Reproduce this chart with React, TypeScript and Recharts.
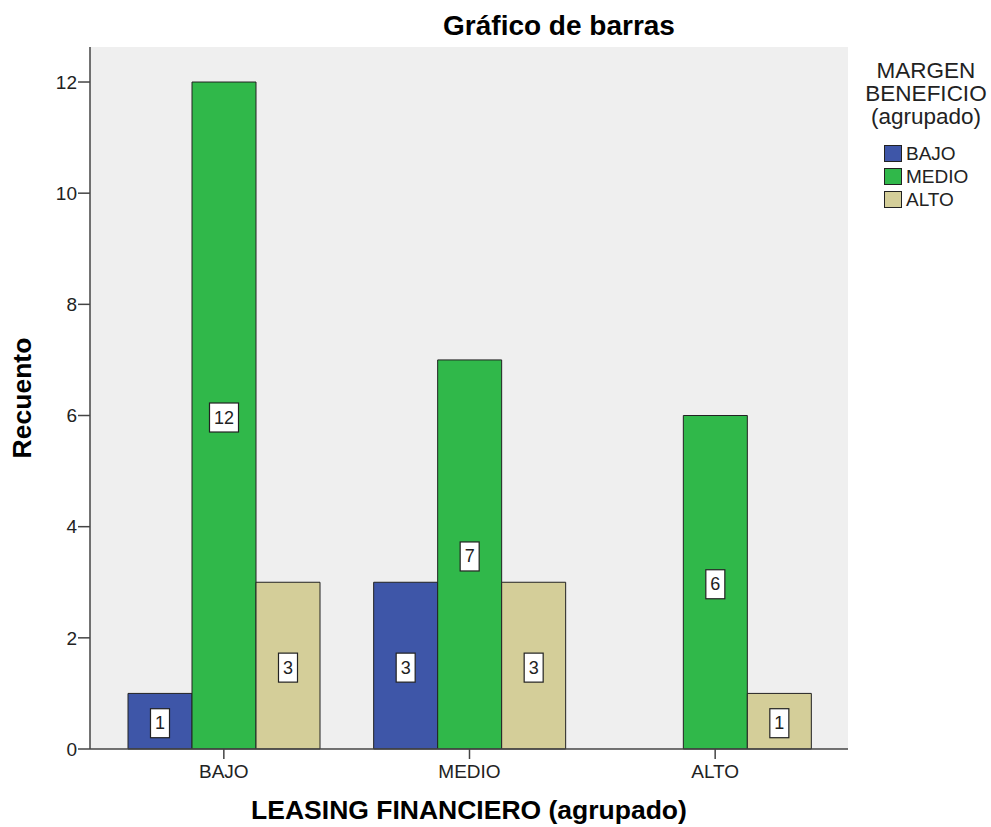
import React from 'react';
import { BarChart, Bar, XAxis, YAxis, CartesianGrid, Legend } from 'recharts';

const categories = ['BAJO', 'MEDIO', 'ALTO'];
const bajoValues = [1, 3, null];
const medioValues = [12, 7, 6];
const altoValues = [3, 3, 1];
const yTicks = [0, 2, 4, 6, 8, 10, 12];

const series = [
  { key: 'BAJO', color: '#3E56A8' },
  { key: 'MEDIO', color: '#30B84A' },
  { key: 'ALTO', color: '#D4CE99' },
];

const data = categories.map((name, i) => ({
  name,
  BAJO: bajoValues[i],
  MEDIO: medioValues[i],
  ALTO: altoValues[i],
}));

const FONT = '"Liberation Sans", Arial, sans-serif';

// white box with the count, centered on the bar
const renderValueBox = (props: any) => {
  const { x, y, width, height, value } = props;
  if (value === null || value === undefined) return null;
  const txt = String(value);
  const w = txt.length * 10 + 9;
  const h = 29;
  const cx = x + width / 2;
  const cy = y + height / 2 + 2;
  return (
    <g>
      <rect x={cx - w / 2} y={cy - h / 2} width={w} height={h} fill="#fff" stroke="#222" strokeWidth={1.2} />
      <text x={cx} y={cy + 6} textAnchor="middle" fontSize={18} fontFamily={FONT} fill="#222">
        {txt}
      </text>
    </g>
  );
};

const LegendBox = () => (
  <div style={{ fontFamily: FONT, color: '#222' }}>
    <div style={{ textAlign: 'center', fontSize: 22.5, lineHeight: '23px' }}>
      MARGEN
      <br />
      BENEFICIO
      <br />
      (agrupado)
    </div>
    <div style={{ marginTop: 14, paddingLeft: 24 }}>
      {series.map((s) => (
        <div key={s.key} style={{ display: 'flex', alignItems: 'center', height: 23 }}>
          <span
            style={{
              width: 16,
              height: 15,
              background: s.color,
              border: '1.5px solid #222',
              marginRight: 4,
            }}
          />
          <span style={{ fontSize: 19 }}>{s.key}</span>
        </div>
      ))}
    </div>
  </div>
);

const App: React.FC = () => {
  return (
    <div style={{ position: 'absolute', left: 0, top: 0, width: 991, height: 827, background: '#fff' }}>
      <BarChart
        width={991}
        height={827}
        data={data}
        margin={{ top: 47, right: 143, bottom: 0, left: 0 }}
        barSize={64}
        barGap={0}
      >
        <CartesianGrid fill="#EFEFEF" horizontal={false} vertical={false} />
        <XAxis
          dataKey="name"
          height={78}
          padding={{ left: 11, right: 10 }}
          stroke="#444"
          strokeWidth={1.5}
          tickSize={10}
          tickMargin={6}
          tick={{ fontSize: 19, fontFamily: FONT, fill: '#222' }}
        />
        <XAxis
          xAxisId="top"
          dataKey="name"
          orientation="top"
          height={0}
          stroke="#444"
          strokeWidth={1.5}
          tick={false}
          tickLine={false}
        />
        <YAxis
          width={90}
          domain={[0, 12.63]}
          ticks={yTicks}
          stroke="#444"
          strokeWidth={1.5}
          tickSize={12}
          tickMargin={1}
          tick={{ fontSize: 19, fontFamily: FONT, fill: '#222' }}
        />
        <YAxis
          yAxisId="right"
          orientation="right"
          width={0}
          domain={[0, 12.63]}
          stroke="#444"
          strokeWidth={1.5}
          tick={false}
          tickLine={false}
        />
        <Legend
          layout="vertical"
          align="center"
          verticalAlign="middle"
          content={() => <LegendBox />}
          wrapperStyle={{ left: 860, top: 59, width: 132 }}
        />
        {series.map((s) => (
          <Bar
            key={s.key}
            dataKey={s.key}
            fill={s.color}
            stroke="#222"
            strokeWidth={1}
            isAnimationActive={false}
            label={renderValueBox}
          />
        ))}
      </BarChart>
      <svg
        width={991}
        height={827}
        style={{ position: 'absolute', left: 0, top: 0, pointerEvents: 'none' }}
      >
        <text x={559} y={35} textAnchor="middle" fontSize={28} fontWeight="bold" fontFamily={FONT} fill="#000">
          Gráfico de barras
        </text>
        <text
          x={0}
          y={0}
          transform="translate(31, 398) rotate(-90)"
          textAnchor="middle"
          fontSize={26.5}
          fontWeight="bold"
          fontFamily={FONT}
          fill="#000"
        >
          Recuento
        </text>
        <text x={469} y={819} textAnchor="middle" fontSize={26.5} fontWeight="bold" fontFamily={FONT} fill="#000">
          LEASING FINANCIERO (agrupado)
        </text>
      </svg>
    </div>
  );
};

export default App;
